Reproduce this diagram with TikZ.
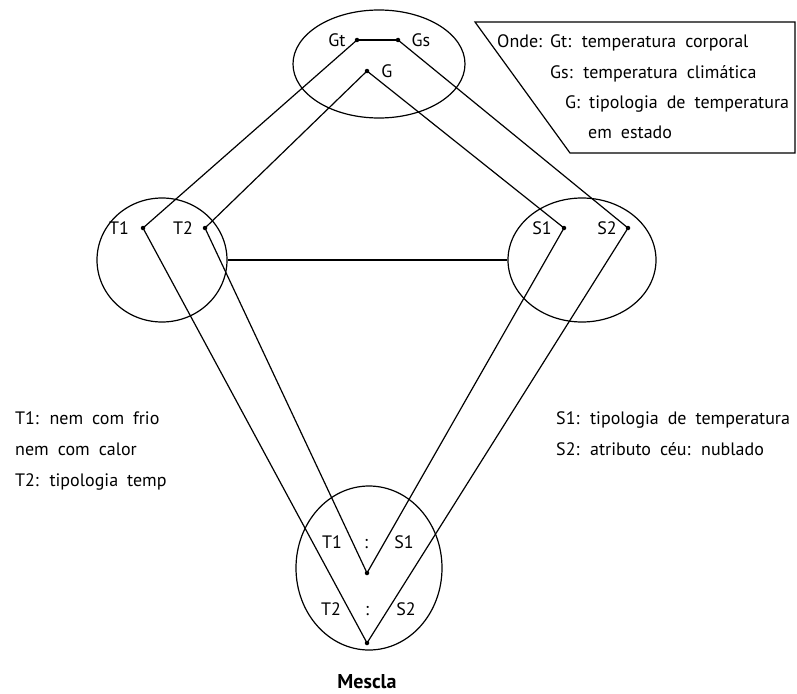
\documentclass[tikz,border=0pt]{standalone}
\usepackage{fontspec}
\setmainfont{PT Sans}
\usetikzlibrary{shapes.geometric}
\newcommand{\lblfontx}{\fontsize{18}{22}\selectfont\spaceskip=0.5em plus 0.1em minus 0.1em\relax}
\begin{document}
\begin{tikzpicture}[x=1pt,y=-1pt,
  ring/.style={draw, ellipse, inner sep=0pt, line width=1.2pt},
  dot/.style={circle, fill, inner sep=0pt, minimum size=4.5pt},
  lbl/.style={font=\lblfontx, inner sep=0pt},
  link/.style={line width=1.2pt}]
\useasboundingbox[fill=white] (0,0) rectangle (797,693);
% ellipses
\node[ring, minimum width=172pt, minimum height=108pt] (top) at (379,64) {};
\node[ring, minimum width=130pt, minimum height=124pt] (left) at (162,260) {};
\node[ring, minimum width=148pt, minimum height=124pt] (right) at (582,260) {};
\node[ring, minimum width=146pt, minimum height=164pt] (bot) at (369,568) {};
% dots
\node[dot] (Gt) at (357,40) {};
\node[dot] (Gs) at (398,40) {};
\node[dot] (G) at (367,71) {};
\node[dot] (T1) at (143,228) {};
\node[dot] (T2) at (205,228) {};
\node[dot] (S1) at (564,228) {};
\node[dot] (S2) at (628,228) {};
\node[dot] (B1) at (367,573) {};
\node[dot] (B2) at (367,643) {};
% connectors
\draw[link] (Gt.center) -- (Gs.center);
\draw[link] (Gt.center) -- (T1.center) -- (B2.center) -- (S2.center) -- (Gs.center);
\draw[link] (G.center) -- (T2.center) -- (B1.center) -- (S1.center) -- (G.center);
\draw[link] (left.east) -- (right.west);
% dot labels
\node[lbl] (lGt) at (337,40) {Gt};
\node[lbl] (lGs) at (421,40) {Gs};
\node[lbl] (lG) at (387,71) {G};
\node[lbl] (lT1) at (119,228) {T1};
\node[lbl] (lT2) at (183,228) {T2};
\node[lbl] (lS1) at (542,228) {S1};
\node[lbl] (lS2) at (607,228) {S2};
\node[lbl, anchor=base] (bT1) at (332,548) {T1};
\node[lbl, anchor=base] (bc1) at (366,548) {:};
\node[lbl, anchor=base] (bS1) at (404,548) {S1};
\node[lbl, anchor=base] (bT2) at (331,615) {T2};
\node[lbl, anchor=base] (bc2) at (367,615) {:};
\node[lbl, anchor=base] (bS2) at (406,615) {S2};
\node[anchor=base, inner sep=0pt, font=\fontsize{20}{22}\selectfont\bfseries] (mescla) at (367,688) {Mescla};
% legend box
\draw[link] (475,22) -- (795,22) -- (795,153) -- (570,153) -- cycle;
\node[lbl, anchor=base west] (onde) at (497,48) {Onde:};
\node[lbl, anchor=base west] (k1) at (550,48) {Gt: temperatura corporal};
\node[lbl, anchor=base west] (k2) at (550,78) {Gs: temperatura climática};
\node[lbl, anchor=base west] (k3) at (565,108) {G: tipologia de temperatura};
\node[lbl, anchor=base west] (k4) at (588,138) {em estado};
% side texts
\node[lbl, anchor=base west] (t1) at (15,424) {T1: nem com frio};
\node[lbl, anchor=base west] (t2) at (15,455) {nem com calor};
\node[lbl, anchor=base west] (t3) at (15,486) {T2: tipologia temp};
\node[lbl, anchor=base west] (s1) at (556,424) {S1: tipologia de temperatura};
\node[lbl, anchor=base west] (s2) at (556,455) {S2: atributo céu: nublado};
\end{tikzpicture}
\end{document}
